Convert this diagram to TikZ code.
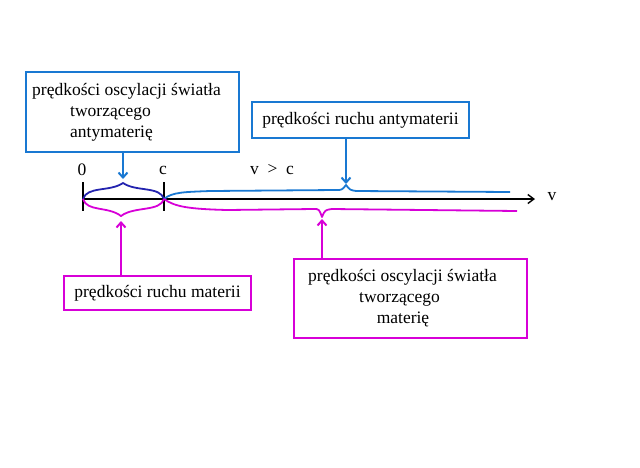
\documentclass[tikz,border=0pt]{standalone}
\usepackage{fontspec}
\setmainfont{Liberation Serif}
\usetikzlibrary{arrows.meta}
\definecolor{lineblue}{RGB}{25,120,210}
\definecolor{navyblue}{RGB}{35,35,175}
\definecolor{pinkline}{RGB}{215,0,215}
\begin{document}
\begin{tikzpicture}[x=1pt,y=-1pt,
  font=\fontsize{17.5}{21}\selectfont,
  bluebox/.style={draw=lineblue,line width=2pt,inner sep=0pt},
  pinkbox/.style={draw=pinkline,line width=2pt,inner sep=0pt},
  bluearr/.style={draw=lineblue,line width=2pt,-{Straight Barb[length=5pt,width=9pt]}},
  pinkarr/.style={draw=pinkline,line width=2pt,-{Straight Barb[length=5pt,width=9pt]}},
  brace/.style={line width=1.8pt,line join=round},
  tick/.style={draw,line width=1.6pt}]
\useasboundingbox (0,0) rectangle (640,467);

% axis
\coordinate (zero) at (83,199);
\coordinate (cpt) at (164,199);
\coordinate (vend) at (535,199);
\draw[line width=1.4pt,-{Straight Barb[length=6pt,width=9pt]}] (zero) -- (vend);
\draw[tick] (83,182) -- (83,211);
\draw[tick] (164,182) -- (164,211);
\node (lzero) at (82,170) {0};
\node (lc) at (163,170) {c};
\node (lvc) at (272,170) {v\ \ >\ \ c};
\node (lv) at (552,197) {v};

% braces above
\draw[brace,navyblue] (zero) .. controls (87,186) and (110,192) .. (123,183)
  .. controls (136,192) and (160,186) .. (cpt);
\draw[brace,lineblue] (cpt) .. controls (172,192) and (185,192) .. (210,191)
  -- (336,190) .. controls (342,190) .. (346,185) .. controls (350,190) .. (356,191)
  -- (510,192);
% braces below
\draw[brace,pinkline] (zero) .. controls (87,212) and (108,206) .. (121,216)
  .. controls (134,206) and (160,212) .. (cpt);
\draw[brace,pinkline] (cpt) .. controls (175,207) and (190,209) .. (227,210)
  -- (314,209) .. controls (319,209) .. (322,217) .. controls (325,210) .. (332,209)
  -- (517,211);

% boxes
\node[bluebox,minimum width=213pt,minimum height=80pt,align=left] (antiosc) at (132.5,112)
  {prędkości oscylacji światła\hspace*{12pt}\\\hspace*{38pt}tworzącego\\\hspace*{38pt}antymaterię};
\node[bluebox,minimum width=217pt,minimum height=36pt] (antimove) at (360.5,120)
  {prędkości ruchu antymaterii};
\node[pinkbox,minimum width=187pt,minimum height=34pt] (matmove) at (157.5,293)
  {prędkości ruchu materii};
\node[pinkbox,minimum width=233pt,minimum height=79pt,align=center] (matosc) at (410.5,298.5)
  {\mbox{prędkości oscylacji światła\hspace{16pt}}\\\mbox{tworzącego\hspace{22pt}}\\\mbox{materię\hspace{15pt}}};

% arrows
\coordinate (antioscend) at (123,179);
\coordinate (antimoveend) at (346,184);
\coordinate (matmoveend) at (121,221);
\coordinate (matoscend) at (322,219);
\draw[bluearr] (antiosc.south -| antioscend) -- (antioscend);
\draw[bluearr] (antimove.south -| antimoveend) -- (antimoveend);
\draw[pinkarr] (matmove.north -| matmoveend) -- (matmoveend);
\draw[pinkarr] (matosc.north -| matoscend) -- (matoscend);
\end{tikzpicture}
\end{document}
